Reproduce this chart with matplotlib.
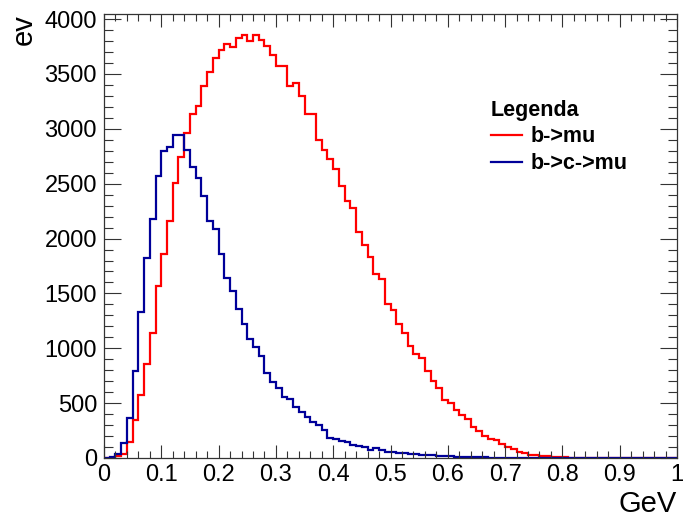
import numpy as np
import matplotlib
matplotlib.use("Agg")
import matplotlib.pyplot as plt
from matplotlib.ticker import MultipleLocator

plt.rcParams['font.family'] = ['Liberation Sans', 'DejaVu Sans']

# histogram: 100 bins between 0 and 1 GeV
bin_edges = np.linspace(0.0, 1.0, 101)

b_mu = [0, 0, 18, 40, 143, 346, 574, 856, 1136, 1567,
        1860, 2159, 2509, 2745, 2964, 3134, 3210, 3392, 3514, 3647,
        3717, 3772, 3742, 3824, 3854, 3802, 3854, 3814, 3754, 3672,
        3575, 3575, 3392, 3422, 3301, 3134, 3134, 2895, 2806, 2721,
        2635, 2475, 2343, 2282, 2062, 1941, 1834, 1675, 1630, 1405,
        1350, 1221, 1142, 1020, 948, 908, 796, 705, 635, 530,
        505, 437, 392, 352, 285, 249, 200, 176, 164, 125,
        97, 79, 58, 43, 24, 27, 18, 18, 12, 8,
        5, 0, 0, 0, 0, 0, 0, 0, 0, 0,
        0, 0, 0, 0, 0, 0, 0, 0, 0, 0]

b_c_mu = [0, 10, 33, 140, 361, 796, 1333, 1819, 2178, 2569,
          2794, 2837, 2940, 2940, 2806, 2654, 2548, 2390, 2159, 2086,
          1856, 1643, 1522, 1358, 1221, 1084, 1008, 932, 777, 690,
          635, 559, 538, 468, 416, 370, 331, 301, 255, 185,
          170, 158, 149, 118, 112, 103, 73, 94, 73, 58,
          52, 48, 45, 38, 35, 30, 28, 25, 20, 18,
          15, 12, 10, 10, 8, 6, 5, 3, 2, 0,
          0, 0, 0, 0, 0, 0, 0, 0, 0, 0,
          0, 0, 0, 0, 0, 0, 0, 0, 0, 0,
          0, 0, 0, 0, 0, 0, 0, 0, 0, 0]

labels = ["b->mu", "b->c->mu"]
colors = ["#ff0000", "#000099"]
xtick_vals = np.round(np.arange(0, 1.01, 0.1), 1)
xtick_labels = ["0", "0.1", "0.2", "0.3", "0.4", "0.5", "0.6", "0.7", "0.8", "0.9", "1"]

fig = plt.figure(figsize=(6.88, 5.17), dpi=100)
ax = fig.add_axes([104 / 688, 1 - 458 / 517, 573 / 688, 444 / 517])

ax.stairs(b_mu, bin_edges, color=colors[0], linewidth=1.6, label=labels[0])
ax.stairs(b_c_mu, bin_edges, color=colors[1], linewidth=1.6, label=labels[1])

ax.set_xlim(0, 1)
ax.set_ylim(0, 1.05 * max(b_mu))

ax.set_xticks(xtick_vals, xtick_labels)
ax.xaxis.set_minor_locator(MultipleLocator(0.02))
ax.yaxis.set_major_locator(MultipleLocator(500))
ax.yaxis.set_minor_locator(MultipleLocator(100))

ax.tick_params(axis='both', which='both', direction='in', top=True, right=True,
               labelsize=17, width=0.8, color='#333333')
ax.tick_params(axis='x', which='major', length=9.5, pad=4)
ax.tick_params(axis='x', which='minor', length=5)
ax.tick_params(axis='y', which='major', length=12.5, pad=5)
ax.tick_params(axis='y', which='minor', length=6.5)
for s in ax.spines.values():
    s.set_linewidth(0.9)
    s.set_color('#333333')

ax.set_xlabel("GeV", fontsize=21, loc='right', labelpad=3)
ax.set_ylabel("ev", fontsize=21, loc='top', labelpad=5)

leg = ax.legend(title="Legenda", loc='upper left', bbox_to_anchor=(0.66, 0.826),
                frameon=False, alignment='left', handlelength=1.45,
                handletextpad=0.42, labelspacing=0.26, borderaxespad=0,
                prop={'weight': 'bold', 'size': 15.5},
                title_fontproperties={'weight': 'bold', 'size': 15.5})

fig.savefig("out.png", dpi=100)
